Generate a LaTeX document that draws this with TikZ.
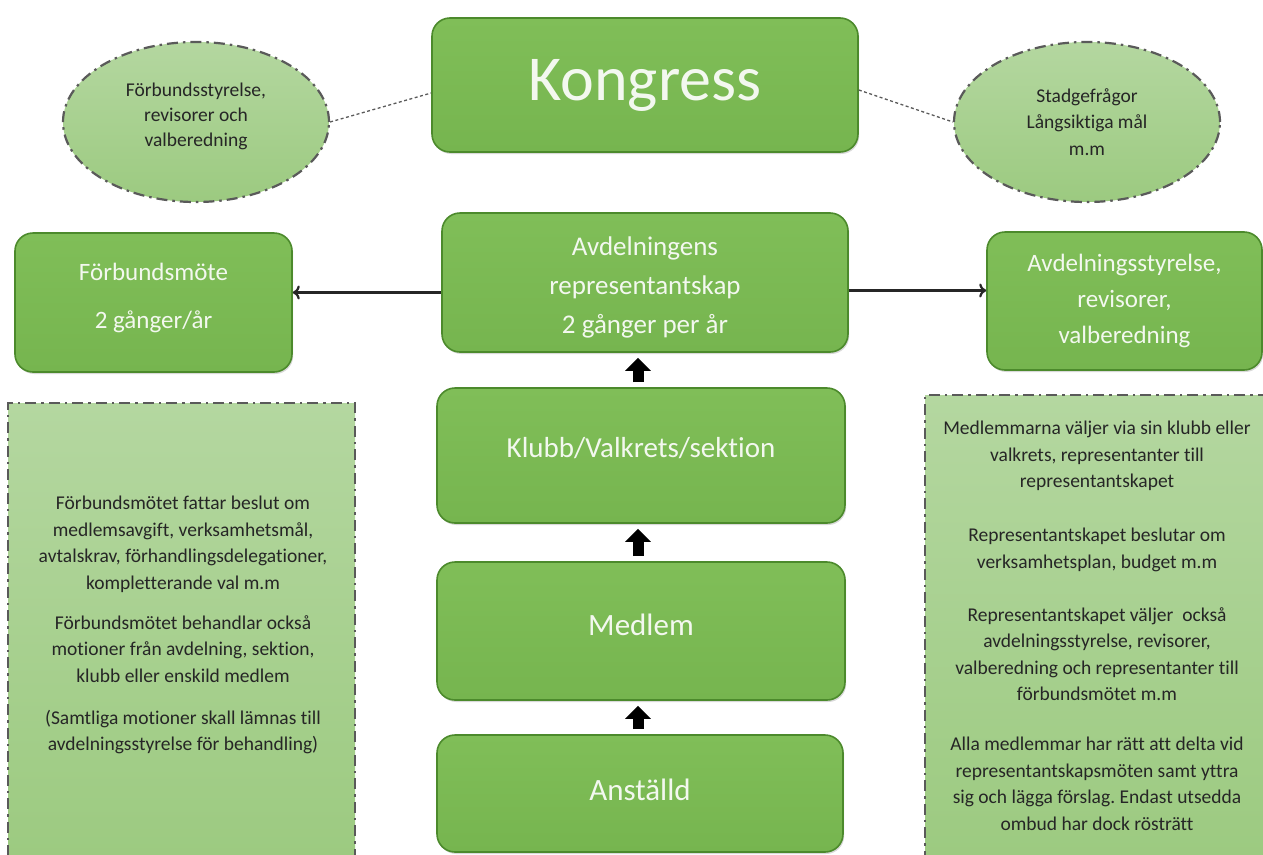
\documentclass[tikz,border=0pt]{standalone}
\usepackage{fontspec}
\setmainfont{Carlito}[Ligatures=NoCommon]
\frenchspacing
\usetikzlibrary{arrows.meta,shapes.geometric,shadows}
\definecolor{boxgreen}{HTML}{76B54F}
\definecolor{boxgreentop}{HTML}{80BE58}
\definecolor{boxedge}{HTML}{4C8A2C}
\definecolor{lighttop}{HTML}{B4D7A0}
\definecolor{lightbot}{HTML}{9CCA80}
\definecolor{dashgray}{HTML}{5A5A5A}
\definecolor{boxtext}{HTML}{F3F8EF}
\definecolor{smalltext}{HTML}{262626}
\begin{document}
\begin{tikzpicture}[x=1pt,y=-1pt,
  gbox/.style={draw=boxedge, line width=1.6pt, rounded corners=18pt,
    top color=boxgreentop, bottom color=boxgreen, text=boxtext, align=center,
    inner sep=0pt, drop shadow={shadow xshift=1.2pt, shadow yshift=-2pt, opacity=0.3}},
  glabel/.style={text=boxtext, align=center, inner sep=0pt},
  dashdot/.style={draw=dashgray, line width=2.2pt, dash pattern=on 11pt off 5pt on 2.5pt off 5pt},
  ellnode/.style={ellipse, dashdot, top color=lighttop, bottom color=lightbot,
    inner sep=0pt, align=center, text=smalltext,
    font=\fontsize{19.5}{25}\selectfont},
  elabel/.style={text=smalltext, align=center, inner sep=0pt},
  notebox/.style={rectangle, dashdot, top color=lighttop, bottom color=lightbot, inner sep=0pt},
  notetext/.style={align=center, text=smalltext, inner sep=0pt, font=\fontsize{19.5}{26.5}\selectfont},
  dotline/.style={draw=dashgray, line width=1.3pt, dash pattern=on 3pt off 2.5pt},
  harrow/.style={draw=black!85, line width=2.2pt, -{To[length=7pt,width=14pt]}},
  uparrow/.style={draw=black, line width=11pt, -{Triangle[length=13pt,width=25pt]}, shorten <=5pt, shorten >=5pt}
]
\useasboundingbox (0,0) rectangle (1263,854);
\clip (0,0) rectangle (1263,854);

% note boxes
\node[notebox, minimum width=347pt, minimum height=462pt] (lnote) at (181.5,634) {};
\node[notebox, minimum width=348pt, minimum height=470pt] (rnote) at (1099,630) {};
\node[notetext] (ltext) at (183,625) {Förbundsmötet fattar beslut om\\ medlemsavgift, verksamhetsmål,\\ avtalskrav, förhandlingsdelegationer,\\ kompletterande val m.m\\[13.5pt] Förbundsmötet behandlar också\\ motioner från avdelning, sektion,\\ klubb eller enskild medlem\\[15.5pt] (Samtliga motioner skall lämnas till\\ avdelningsstyrelse för behandling)};
\node[notetext] (rtext) at (1097,626) {Medlemmarna väljer via sin klubb eller\\ valkrets, representanter till\\ representantskapet\\[27.5pt] Representantskapet beslutar om\\ verksamhetsplan, budget m.m\\[26.5pt] Representantskapet väljer \ också\\ avdelningsstyrelse, revisorer,\\ valberedning och representanter till\\ förbundsmötet m.m\\[23.5pt] Alla medlemmar har rätt att delta vid\\ representantskapsmöten samt yttra\\ sig och lägga förslag. Endast utsedda\\ ombud har dock rösträtt};

% ellipses
\node[ellnode, minimum width=266pt, minimum height=160pt,
  label={[elabel, yshift=6pt, font=\fontsize{19.5}{25}\selectfont]center:{Förbundsstyrelse,\\ revisorer och\\ valberedning}}] (ell1) at (196,122) {};
\node[ellnode, minimum width=266pt, minimum height=160pt, font=\fontsize{19.5}{26.5}\selectfont] (ell2) at (1087,122) {Stadgefrågor\\ Långsiktiga mål\\ m.m};

% green boxes
\node[gbox, minimum width=426pt, minimum height=134pt, font=\fontsize{64}{70}\selectfont] (kong) at (645,85) {Kongress};
\node[gbox, minimum width=277pt, minimum height=139pt,
  label={[glabel, yshift=5pt, font=\fontsize{25}{30}\selectfont]center:{Förbundsmöte\\[18pt] 2 gånger/år}}] (fm) at (153.5,302.5) {};
\node[gbox, minimum width=406pt, minimum height=139pt,
  label={[glabel, yshift=-5pt, font=\fontsize{27}{39}\selectfont]center:{Avdelningens\\ representantskap\\ 2 gånger per år}}] (avd) at (645,282.5) {};
\node[gbox, minimum width=275pt, minimum height=138pt, font=\fontsize{25}{36}\selectfont] (astyr) at (1124.5,301) {Avdelningsstyrelse,\\ revisorer,\\ valberedning};
\node[gbox, minimum width=408pt, minimum height=135pt,
  label={[glabel, yshift=7pt, font=\fontsize{29}{34}\selectfont]center:{Klubb/Valkrets/sektion}}] (klubb) at (641,455.5) {};
\node[gbox, minimum width=408pt, minimum height=138pt,
  label={[glabel, yshift=6pt, font=\fontsize{31}{36}\selectfont]center:{Medlem}}] (medlem) at (641,631) {};
\node[gbox, minimum width=406pt, minimum height=117pt,
  label={[glabel, yshift=4pt, font=\fontsize{31}{36}\selectfont]center:{Anställd}}] (anst) at (640,793.5) {};

% dotted connectors
\draw[dotline] (ell1.east) -- ([yshift=-8pt]kong.west);
\draw[dotline] ([yshift=-5pt]kong.east) -- (ell2.west);

% horizontal arrows
\coordinate (avdL) at ([yshift=-10pt]avd.west);
\coordinate (avdR) at ([yshift=-8pt]avd.east);
\draw[harrow] (avdL) -- (avdL -| fm.east);
\draw[harrow] (avdR) -- (avdR -| astyr.west);

% block up arrows
\draw[uparrow] ([xshift=-3pt]klubb.north) -- ([xshift=-3pt]klubb.north |- avd.south);
\draw[uparrow] ([xshift=-3pt]medlem.north) -- ([xshift=-3pt]medlem.north |- klubb.south);
\draw[uparrow] ([xshift=-2pt]anst.north) -- ([xshift=-2pt]anst.north |- medlem.south);
\end{tikzpicture}
\end{document}
